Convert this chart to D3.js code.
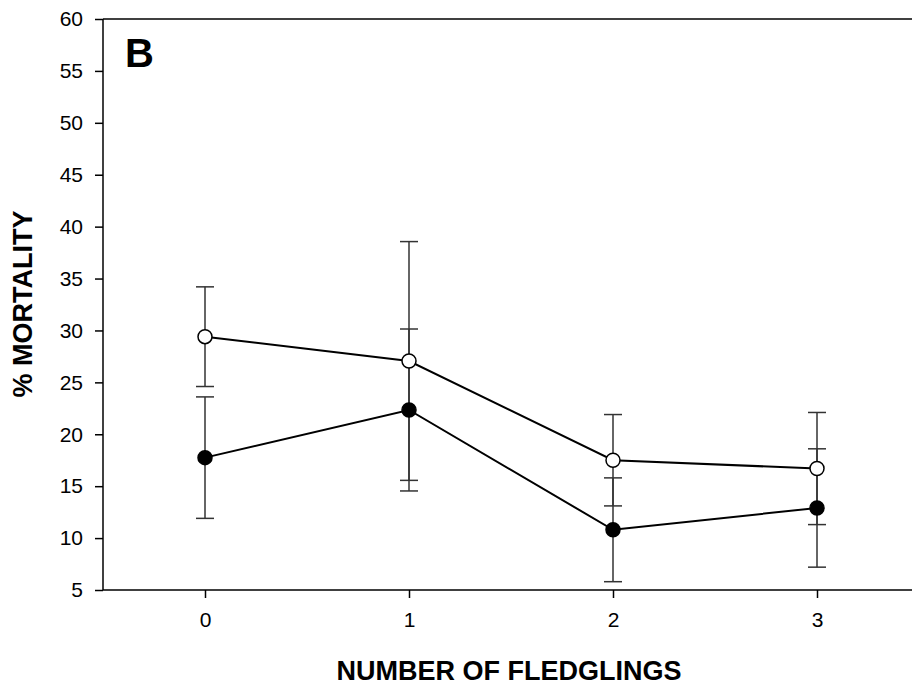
<!DOCTYPE html>
<html lang="en">
<head>
    <meta charset="UTF-8">
    <title>Mortality vs fledglings</title>
    <script src="https://cdn.jsdelivr.net/npm/d3@7"></script>
    <style>
        body{ margin: 0; background: #fff; }
        text{ font-family: "Liberation Sans", Arial, sans-serif; fill: #000; }
        .tick text{ font-size: 21px; }
        .title{ font-size: 27px; font-weight: bold; }
        .panel{ font-size: 40px; font-weight: bold; }
        .errbar{ stroke: #333; stroke-width: 1.5px; fill: none; }
        .series{ stroke: #000; stroke-width: 2px; fill: none; }
    </style>
</head>
<body>
<svg id="svg_main"></svg>
<script>
    const width = 912;
    const height = 686;

    // chart values
    const fledglings = [0, 1, 2, 3];
    const openMean = [29.4, 27.06, 17.5, 16.7];
    const openErr = [4.8, 11.5, 4.4, 5.4];
    const filledMean = [17.75, 22.34, 10.8, 12.9];
    const filledErr = [5.85, 7.8, 5.0, 5.7];
    const yTicks = [5, 10, 15, 20, 25, 30, 35, 40, 45, 50, 55, 60];

    let svg = d3.select('#svg_main').attr('width', width).attr('height', height);

    let xScale = d3.scaleLinear().domain([-0.5, 3.5]).range([103, 919]);
    let yScale = d3.scaleLinear().domain([5, 60]).range([590, 19]);

    const series = [
        {name: 'open', mean: openMean, err: openErr, fill: '#fff'},
        {name: 'filled', mean: filledMean, err: filledErr, fill: '#000'}
    ].map(s => ({...s, pts: fledglings.map((f, i) => ({x: f, y: s.mean[i], e: s.err[i]}))}));

    // axes
    let yAxis = d3.axisLeft(yScale).tickValues(yTicks).tickSize(8).tickPadding(12);
    svg.append('g').attr('transform', 'translate(103,0)').call(yAxis);
    let xAxis = d3.axisBottom(xScale).tickValues(fledglings).tickFormat(d3.format('d'))
        .tickSize(8).tickPadding(14);
    svg.append('g').attr('transform', 'translate(0,590)').call(xAxis);
    svg.selectAll('.domain').remove();
    svg.selectAll('.tick line').attr('stroke', '#000').attr('stroke-width', 1.5);

    // frame: left, bottom, top
    svg.append('line').attr('x1', 103).attr('x2', 103).attr('y1', yScale(60)).attr('y2', yScale(5))
        .attr('stroke', '#000').attr('stroke-width', 1.5);
    svg.append('line').attr('x1', 103).attr('x2', width).attr('y1', yScale(5)).attr('y2', yScale(5))
        .attr('stroke', '#000').attr('stroke-width', 1.5);
    svg.append('line').attr('x1', 103).attr('x2', width).attr('y1', yScale(60)).attr('y2', yScale(60))
        .attr('stroke', '#000').attr('stroke-width', 1.5);

    // error bars
    let eb = svg.append('g').attr('class', 'errbar');
    series.forEach(s => {
        s.pts.forEach(d => {
            let x = xScale(d.x);
            eb.append('line').attr('x1', x).attr('x2', x)
                .attr('y1', yScale(d.y + d.e)).attr('y2', yScale(d.y - d.e));
            [d.y + d.e, d.y - d.e].forEach(v => {
                eb.append('line').attr('x1', x - 9).attr('x2', x + 9)
                    .attr('y1', yScale(v)).attr('y2', yScale(v));
            });
        });
    });

    // lines and markers
    let line = d3.line().x(d => xScale(d.x)).y(d => yScale(d.y));
    series.forEach(s => {
        svg.append('path').attr('class', 'series').attr('d', line(s.pts));
    });
    series.forEach(s => {
        svg.append('g').selectAll('circle').data(s.pts).enter()
            .append('circle')
            .attr('cx', d => xScale(d.x))
            .attr('cy', d => yScale(d.y))
            .attr('r', 7)
            .attr('fill', s.fill)
            .attr('stroke', '#000')
            .attr('stroke-width', 1.5);
    });

    // titles
    svg.append('text').attr('class', 'panel').attr('x', 125).attr('y', 67).text('B');
    svg.append('text').attr('class', 'title').attr('text-anchor', 'middle')
        .attr('x', 509).attr('y', 680).text('NUMBER OF FLEDGLINGS');
    svg.append('text').attr('class', 'title').attr('text-anchor', 'middle')
        .attr('transform', 'translate(32,304) rotate(-90)').text('% MORTALITY');
</script>
</body>
</html>
